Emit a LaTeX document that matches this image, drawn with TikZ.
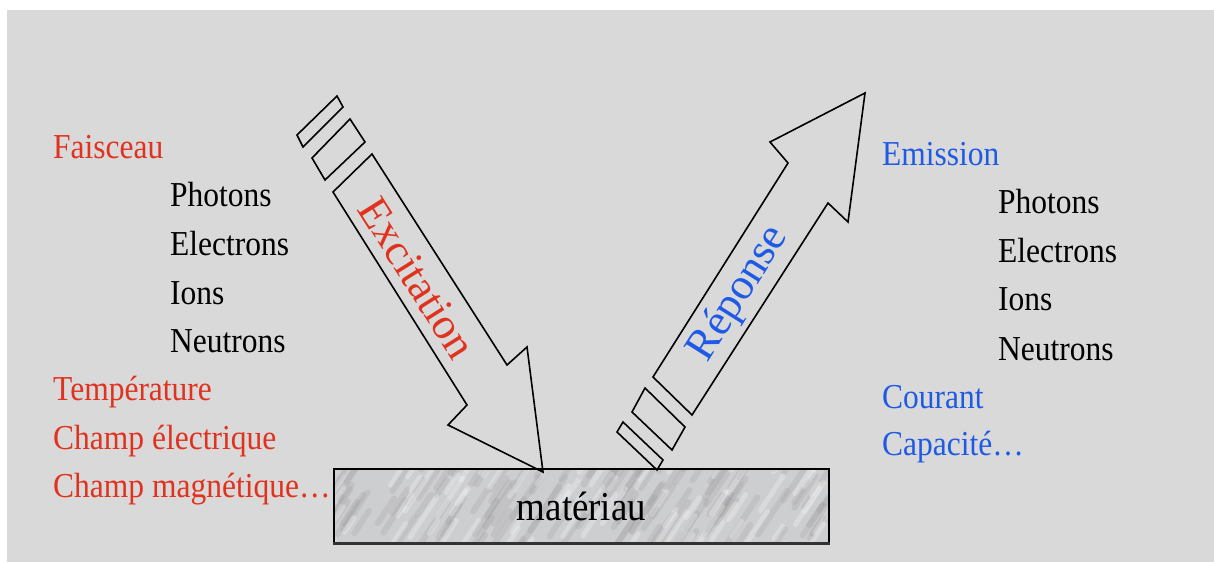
\documentclass[tikz,border=0pt]{standalone}
\usepackage{fontspec}
\setmainfont{Liberation Serif}[FakeStretch=0.9]
\newfontfamily\arrowfont{Liberation Serif}
\definecolor{bggrey}{HTML}{D9D9D9}
\definecolor{marble}{HTML}{CDCED0}
\definecolor{beamred}{HTML}{E0321E}
\definecolor{emitblue}{HTML}{1E5AE6}

\begin{document}
\begin{tikzpicture}[x=1pt, y=-1pt,
    lbl/.style={anchor=base west, inner sep=0pt, font=\fontsize{35}{40}\selectfont},
    redlbl/.style={lbl, text=beamred},
    bluelbl/.style={lbl, text=emitblue},
    arrowlbl/.style={inner sep=0pt, font=\arrowfont\fontsize{44}{50}\selectfont},
    outline/.style={line width=1.6pt, line join=miter}]
    \useasboundingbox (0,0) rectangle (1214,562);
    \fill[white] (0,0) rectangle (1214,562);
    \fill[bggrey] (7,10) rectangle (1214,562); % Slide background

    % Material slab with marble veins
    \fill[marble] (334,469) rectangle (829,543);
    \begin{scope}
        \clip (334,469) rectangle (829,543);
        \pgfmathsetseed{11}
        \foreach \i in {1,...,140} {
            \pgfmathsetmacro{\xx}{310+540*rnd}
            \pgfmathsetmacro{\yy}{465+100*rnd}
            \pgfmathsetmacro{\ll}{15+45*rnd}
            \draw[black!55, opacity=0.12, line width=6pt, line cap=round] (\xx,\yy) -- ++(0.55*\ll,-0.83*\ll);
        }
        \foreach \i in {1,...,90} {
            \pgfmathsetmacro{\xx}{310+540*rnd}
            \pgfmathsetmacro{\yy}{465+100*rnd}
            \pgfmathsetmacro{\ll}{10+40*rnd}
            \draw[white, opacity=0.25, line width=5pt, line cap=round] (\xx,\yy) -- ++(0.55*\ll,-0.83*\ll);
        }
    \end{scope}
    \node[draw, line width=1.5pt, minimum width=495pt, minimum height=74pt, inner sep=0pt,
          font=\fontsize{41}{44}\selectfont] (mat) at (581.5,506) {matériau};
    \draw[black!80, line width=2.6pt] (mat.south west) -- (mat.south east); % heavier bottom edge

    % Excitation arrow (incoming)
    \draw[outline] (297,135) -- (337,96) -- (343,107) -- (303,147) -- cycle; % thin segment
    \draw[outline] (312,158) -- (350,119) -- (365,142) -- (325,180) -- cycle; % wide segment
    \draw[outline] (333,192) -- (372,154) -- (507,365) -- (527,347) -- (543,472)
        -- (448,425) -- (467,405) -- cycle; % shaft and head
    \node[arrowlbl, text=beamred, rotate=-57.8] (exc) at (417,278) {Excitation};

    % Response arrow (outgoing)
    \draw[outline] (623,422) -- (663,460) -- (657,470) -- (617,432) -- cycle; % thin segment
    \draw[outline] (645,388) -- (685,427) -- (672,450) -- (632,412) -- cycle; % wide segment
    \draw[outline] (653,377) -- (788,163) -- (770,142) -- (865,93) -- (848,222)
        -- (828,203) -- (692,415) -- cycle; % shaft and head
    \node[arrowlbl, text=emitblue, rotate=57.8] (rep) at (739,294) {Réponse};

    % Excitation sources
    \node[redlbl] (fais) at (53,158) {Faisceau};
    \node[lbl] (phl) at (170,206) {Photons};
    \node[lbl] (ell) at (170,255) {Electrons};
    \node[lbl] (iol) at (170,304) {Ions};
    \node[lbl] (nel) at (170,352) {Neutrons};
    \node[redlbl] (temp) at (53,400) {Température};
    \node[redlbl] (elec) at (53,449) {Champ électrique};
    \node[redlbl] (magn) at (53,497) {Champ magnétique…};

    % Measured responses
    \node[bluelbl] (emis) at (882,165) {Emission};
    \node[lbl] (phr) at (998,213) {Photons};
    \node[lbl] (elr) at (998,262) {Electrons};
    \node[lbl] (ior) at (998,310) {Ions};
    \node[lbl] (ner) at (998,360) {Neutrons};
    \node[bluelbl] (cour) at (882,408) {Courant};
    \node[bluelbl] (capa) at (882,455) {Capacité…};
\end{tikzpicture}
\end{document}
